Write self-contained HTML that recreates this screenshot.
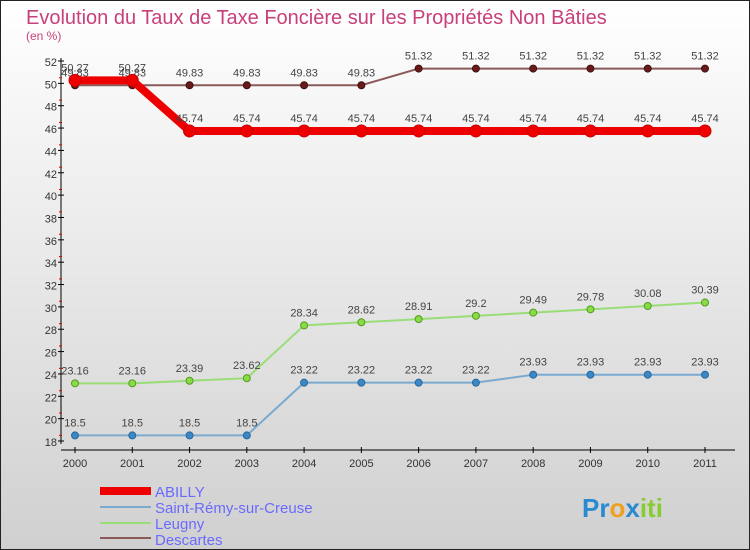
<!DOCTYPE html>
<html><head><meta charset="utf-8"><style>
body{margin:0}
#c{width:750px;height:550px;position:relative;overflow:hidden}
svg text{font-family:"Liberation Sans",sans-serif}
</style></head><body>
<div id="c">
<svg id="s" width="750" height="550" xmlns="http://www.w3.org/2000/svg">
<defs><linearGradient id="bg" x1="0" y1="0" x2="0" y2="1"><stop offset="0" stop-color="#ffffff"/><stop offset="1" stop-color="#d0d0d0"/></linearGradient></defs>
<rect x="0.5" y="0.5" width="749" height="549" fill="url(#bg)" stroke="#222"/>
<text x="26" y="24" font-size="20" fill="#c8407a">Evolution du Taux de Taxe Foncière sur les Propriétés Non Bâties</text>
<text x="26" y="40" font-size="12" fill="#c8407a">(en %)</text>
<g id="axes"></g><g id="series"></g>
<g>
<rect x="100" y="487" width="51" height="8" fill="#ee0000"/>
<rect x="100" y="506" width="51" height="2" fill="#7aaad0"/>
<rect x="100" y="522" width="51" height="2" fill="#99dd77"/>
<rect x="100" y="537" width="51" height="2" fill="#8a5a5a"/>
<text x="155" y="497" font-size="15" fill="#6a6aff">ABILLY</text>
<text x="155" y="513" font-size="15" fill="#6a6aff">Saint-Rémy-sur-Creuse</text>
<text x="155" y="529" font-size="15" fill="#6a6aff">Leugny</text>
<text x="155" y="545" font-size="15" fill="#6a6aff">Descartes</text>
</g>
<g><text x="582" y="517" font-size="26" font-weight="bold"><tspan fill="#2a8ad0">Pr</tspan><tspan fill="#f0a020">o</tspan><tspan fill="#2a8ad0">x</tspan><tspan fill="#88cc33">iti</tspan></text></g>
</svg></div>
<script>
const years=[2000,2001,2002,2003,2004,2005,2006,2007,2008,2009,2010,2011];
const abilly=[50.27,50.27,45.74,45.74,45.74,45.74,45.74,45.74,45.74,45.74,45.74,45.74];
const stremy=[18.5,18.5,18.5,18.5,23.22,23.22,23.22,23.22,23.93,23.93,23.93,23.93];
const leugny=[23.16,23.16,23.39,23.62,28.34,28.62,28.91,29.2,29.49,29.78,30.08,30.39];
const descartes=[49.83,49.83,49.83,49.83,49.83,49.83,51.32,51.32,51.32,51.32,51.32,51.32];
const yTicks=[18,20,22,24,26,28,30,32,34,36,38,40,42,44,46,48,50,52];
const NS="http://www.w3.org/2000/svg";
const X=i=>75+i*(630/11);
const Y=v=>441-(v-18)*(380/34);
function mk(t,a,p){const e=document.createElementNS(NS,t);for(const k in a)e.setAttribute(k,a[k]);p.appendChild(e);return e;}
const ax=document.getElementById('axes');
let e=mk('line',{x1:61,y1:58,x2:61,y2:444,stroke:'#000'},ax);

e=mk('line',{x1:61,y1:450,x2:735,y2:450,stroke:'#000'},ax);

yTicks.forEach(v=>{const y=Y(v);
mk('line',{x1:58,y1:y,x2:64,y2:y,stroke:'#000'},ax);
if(v<52)mk('line',{x1:59,y1:y-5.6,x2:62,y2:y-5.6,stroke:'#d00'},ax);
const t=mk('text',{x:57,y:y+5,'font-size':11,'text-anchor':'end',fill:'#333'},ax);t.textContent=v;
});
years.forEach((yr,i)=>{const x=X(i);mk('line',{x1:x,y1:447,x2:x,y2:453,stroke:'#000'},ax);
const t=mk('text',{x:x,y:467,'font-size':11,'text-anchor':'middle',fill:'#333'},ax);t.textContent=yr;
});
const sg=document.getElementById('series');
function series(name,vals,color,w,r,dot,dstroke){
const g=mk('g',{},sg);
const l=mk('polyline',{points:vals.map((v,i)=>X(i)+','+Y(v)).join(' '),fill:'none',stroke:color,'stroke-width':w,'stroke-linejoin':'round'},g);

vals.forEach((v,i)=>{const c=mk('circle',{cx:X(i),cy:Y(v),r:r,fill:dot,stroke:dstroke,'stroke-width':1},g);

const t=mk('text',{x:X(i),y:Y(v)-9,'font-size':11,'text-anchor':'middle',fill:'#444'},g);t.textContent=v;
});}
series('saint-remy',stremy,'#7aaad0',2,3.5,'#3a88c8','#2a6898');
series('leugny',leugny,'#99dd77',2,3.5,'#88dd44','#559922');
series('descartes',descartes,'#8a5a5a',2,3.5,'#6a1a1a','#401010');
series('abilly',abilly,'#ee0000',8,6,'#ee0000','#cc0000');
</script>
</body></html>
